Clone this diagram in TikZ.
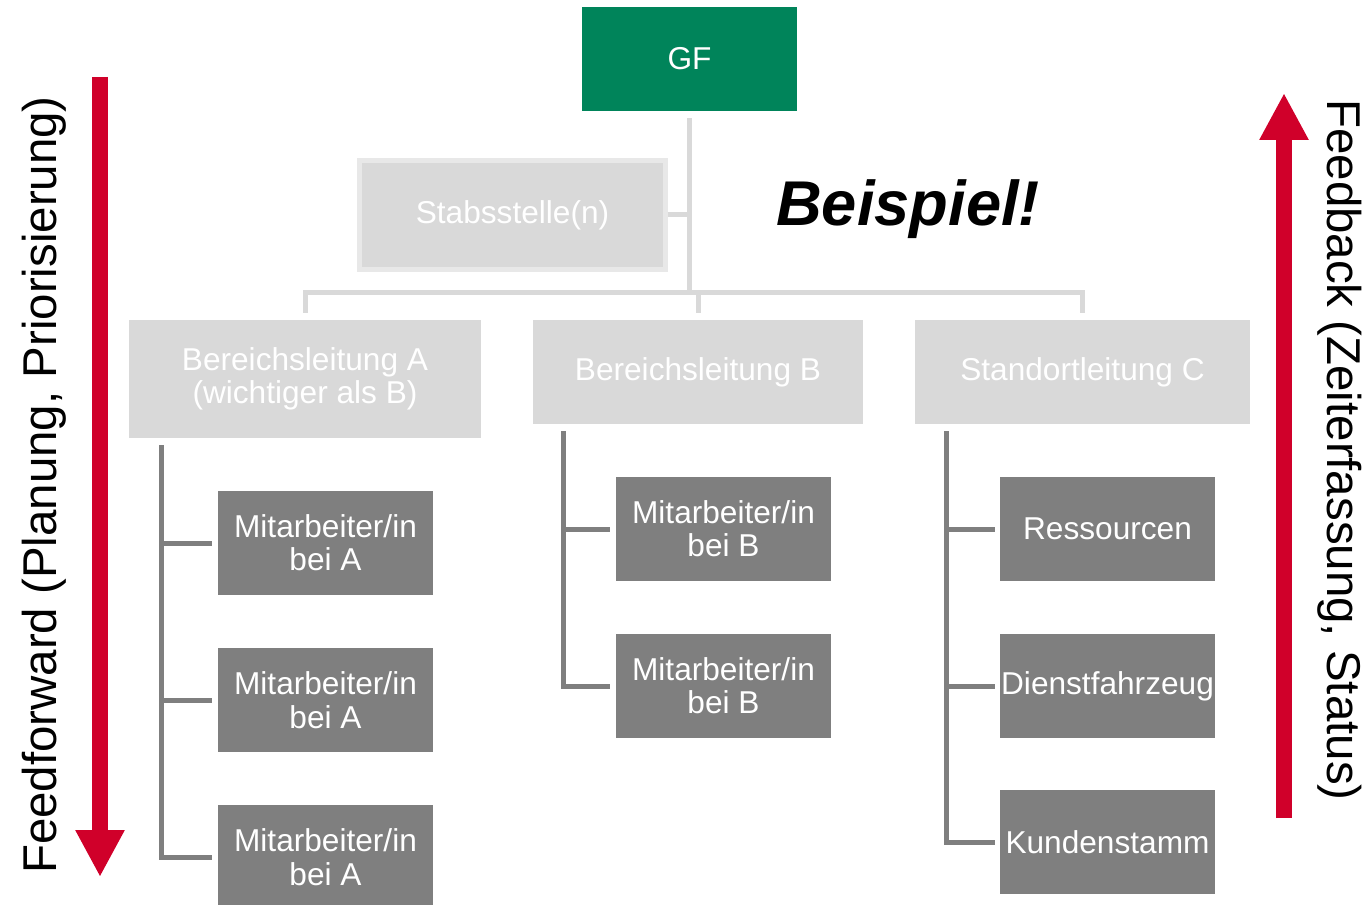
\documentclass[tikz,border=0pt]{standalone}
\usepackage{fontspec}
\setmainfont{Liberation Sans}
\usepackage{xcolor}
\usepackage{tikz}
\usetikzlibrary{positioning,arrows.meta}

\definecolor{gfgreen}{RGB}{0,132,90}
\definecolor{lightgray}{RGB}{217,217,217}
\definecolor{rimgray}{RGB}{232,232,232}
\definecolor{darkgray}{RGB}{127,127,127}
\definecolor{flowred}{RGB}{208,0,42}

\begin{document}
\begin{tikzpicture}[x=0.02cm, y=-0.02cm,
		box/.style={rectangle, inner sep=0pt, align=center, text=white, font=\fontsize{18}{19}\selectfont},
		lead/.style={box, fill=lightgray, minimum height=2.08cm},
		staff/.style={box, fill=darkgray, minimum width=4.3cm, minimum height=2.08cm},
		lightline/.style={draw=lightgray, line width=0.1cm},
		darkline/.style={draw=darkgray, line width=0.1cm},
		flow/.style={draw=flowred, line width=0.32cm, -{Triangle[width=0.92cm, length=0.94cm]}},
		flowtext/.style={font=\fontsize{27}{28}\selectfont, inner sep=0pt}]
	\useasboundingbox (0,0) rectangle (1372,905);
	\node[box, fill=gfgreen, minimum width=4.3cm, minimum height=2.08cm] (gf) at (689.5,59) {GF};
	\node[box, fill=lightgray, draw=rimgray, line width=0.1cm, minimum width=6.12cm, minimum height=2.18cm] (stab) at (512.5,215) {Stabsstelle(n)};
	\node[font=\fontsize{36}{38}\selectfont\bfseries\itshape, anchor=base] (bsp) at (908,226) {Beispiel!};
	\node[lead, minimum width=7.04cm, minimum height=2.36cm] (bla) at (305,379) {Bereichsleitung A\\(wichtiger als B)};
	\node[lead, minimum width=6.6cm] (blb) at (698,372) {Bereichsleitung B};
	\node[lead, minimum width=6.7cm] (slc) at (1082.5,372) {Standortleitung C};
	\node[staff] (a1) at (325.5,543) {Mitarbeiter/in\\bei A};
	\node[staff] (a2) at (325.5,700) {Mitarbeiter/in\\bei A};
	\node[staff] (a3) at (325.5,857) {Mitarbeiter/in\\bei A};
	\node[staff] (b1) at (723.5,529) {Mitarbeiter/in\\bei B};
	\node[staff] (b2) at (723.5,686) {Mitarbeiter/in\\bei B};
	\node[staff] (c1) at (1107.5,529) {Ressourcen};
	\node[staff] (c2) at (1107.5,686) {Dienstfahrzeug};
	\node[staff] (c3) at (1107.5,842) {Kundenstamm};
	% upper tree
	\coordinate (bus) at (0,293);
	\draw[lightline] ([yshift=-0.14cm]gf.south) -- (gf.south |- bus);
	\draw[lightline] (stab.east) -- (stab.east -| gf.south);
	\draw[lightline] ([yshift=0.14cm]bla.north) |- (slc.north |- bus) -- ([yshift=0.14cm]slc.north);
	\draw[lightline] (blb.north |- bus) -- ([yshift=0.14cm]blb.north);
	% lower trees
	\coordinate (ta) at ([xshift=0.66cm, yshift=-0.14cm]bla.south west);
	\coordinate (tb) at ([xshift=0.62cm, yshift=-0.14cm]blb.south west);
	\coordinate (tc) at ([xshift=0.64cm, yshift=-0.14cm]slc.south west);
	\draw[darkline] (ta) |- ([xshift=-0.12cm]a3.west);
	\draw[darkline] (tb) |- ([xshift=-0.12cm]b2.west);
	\draw[darkline] (tc) |- ([xshift=-0.1cm]c3.west);
	\foreach \n in {a1,a2} \draw[darkline] (ta |- \n.west) -- ([xshift=-0.12cm]\n.west);
	\draw[darkline] (tb |- b1.west) -- ([xshift=-0.12cm]b1.west);
	\foreach \n in {c1,c2} \draw[darkline] (tc |- \n.west) -- ([xshift=-0.1cm]\n.west);
	% feedforward / feedback
	\node[flowtext, rotate=90] (ff) at (44,485) {Feedforward (Planung, Priorisierung)};
	\node[flowtext, rotate=-90] (fb) at (1340,450) {Feedback (Zeiterfassung, Status)};
	\coordinate (ffa) at (100,77);
	\coordinate (ffb) at (100,877);
	\coordinate (fba) at (1284,818);
	\coordinate (fbb) at (1284,93);
	\draw[flow] (ffa) -- (ffb);
	\draw[flow] (fba) -- (fbb);
\end{tikzpicture}
\end{document}
